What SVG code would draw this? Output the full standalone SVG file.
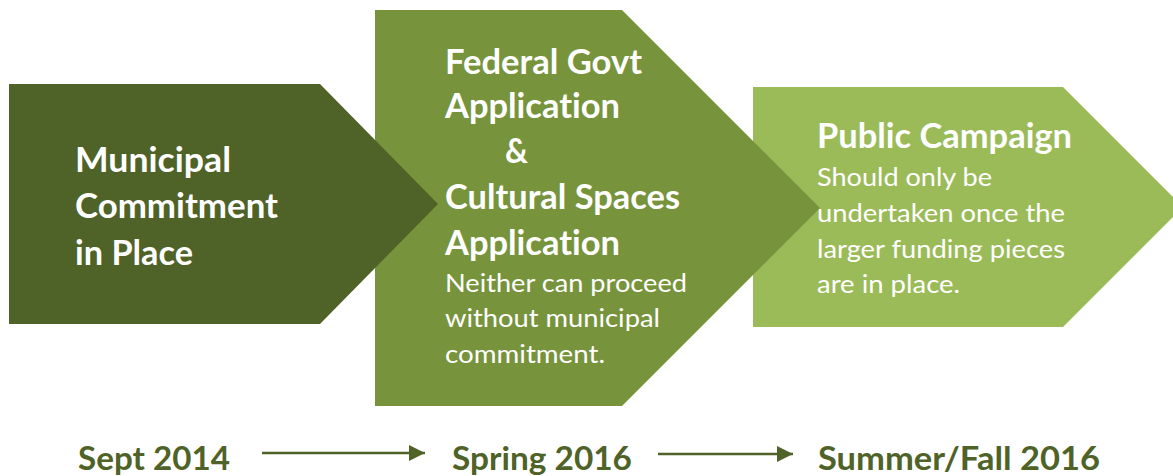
<svg xmlns="http://www.w3.org/2000/svg" width="1173" height="476" viewBox="0 0 1173 476">
  <defs>
    <style>
      text { font-variant-ligatures: none; font-feature-settings: "liga" 0, "clig" 0; }
      .h { font-family: Lato, "Liberation Sans", sans-serif; font-weight: 700; font-size: 34px; fill: #ffffff; }
      .s { font-family: Lato, "Liberation Sans", sans-serif; font-weight: 400; font-size: 25px; fill: #ffffff; }
      .d { font-family: Lato, "Liberation Sans", sans-serif; font-weight: 700; font-size: 33px; fill: #4f6228; }
      .conn { stroke: #4f6228; stroke-width: 2.5; fill: none; }
    </style>
    <marker id="ah" viewBox="0 0 10 10" refX="10" refY="5" markerWidth="6.5" markerHeight="6.5" markerUnits="strokeWidth" orient="auto">
      <path d="M0,0 L10,5 L0,10 Z" fill="#4f6228"/>
    </marker>
  </defs>
  <rect width="1173" height="476" fill="#ffffff"/>

  <g id="node-public-campaign">
    <polygon points="753,87 1063,87 1183,207 1063,327 753,327" fill="#9bbb59"/>
    <text class="h" x="817" y="148" textLength="255" lengthAdjust="spacingAndGlyphs">Public Campaign</text>
    <text class="s" x="817" y="186" textLength="175" lengthAdjust="spacingAndGlyphs">Should only be</text>
    <text class="s" x="817" y="222" textLength="248" lengthAdjust="spacingAndGlyphs">undertaken once the</text>
    <text class="s" x="817" y="258" textLength="248" lengthAdjust="spacingAndGlyphs">larger funding pieces</text>
    <text class="s" x="817" y="293" textLength="143" lengthAdjust="spacingAndGlyphs">are in place.</text>
  </g>

  <g id="node-applications">
    <polygon points="375,10 622,10 820,208 622,406 375,406" fill="#77933c"/>
    <text class="h" x="445" y="74" textLength="197" lengthAdjust="spacingAndGlyphs">Federal Govt</text>
    <text class="h" x="445" y="118" textLength="175" lengthAdjust="spacingAndGlyphs">Application</text>
    <text class="h" x="505" y="163" textLength="23" lengthAdjust="spacingAndGlyphs">&amp;</text>
    <text class="h" x="445" y="209" textLength="235" lengthAdjust="spacingAndGlyphs">Cultural Spaces</text>
    <text class="h" x="445" y="255" textLength="175" lengthAdjust="spacingAndGlyphs">Application</text>
    <text class="s" x="445" y="292" textLength="242" lengthAdjust="spacingAndGlyphs">Neither can proceed</text>
    <text class="s" x="445" y="327" textLength="215" lengthAdjust="spacingAndGlyphs">without municipal</text>
    <text class="s" x="445" y="363" textLength="160" lengthAdjust="spacingAndGlyphs">commitment.</text>
  </g>

  <g id="node-municipal">
    <polygon points="9,84 320,84 438,204 320,324 9,324" fill="#4f6228"/>
    <text class="h" x="75" y="172" textLength="156" lengthAdjust="spacingAndGlyphs">Municipal</text>
    <text class="h" x="75" y="218" textLength="203" lengthAdjust="spacingAndGlyphs">Commitment</text>
    <text class="h" x="75" y="265" textLength="118" lengthAdjust="spacingAndGlyphs">in Place</text>
  </g>

  <g id="timeline-labels">
    <text class="d" x="78" y="470" textLength="152" lengthAdjust="spacingAndGlyphs">Sept 2014</text>
    <text class="d" x="452" y="470" textLength="180" lengthAdjust="spacingAndGlyphs">Spring 2016</text>
    <text class="d" x="818" y="470" textLength="282" lengthAdjust="spacingAndGlyphs">Summer/Fall 2016</text>
  </g>

  <g id="connectors">
    <line class="conn" x1="262" y1="453" x2="425" y2="453" marker-end="url(#ah)"/>
    <line class="conn" x1="658" y1="454" x2="793" y2="454" marker-end="url(#ah)"/>
  </g>
</svg>
